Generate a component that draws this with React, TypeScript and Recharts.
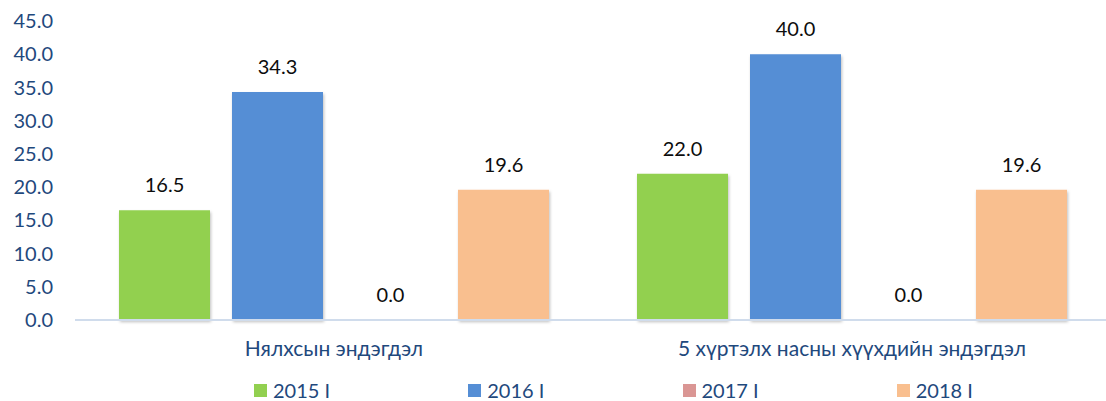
import { BarChart, Bar, XAxis, YAxis, Legend, LabelList } from 'recharts';

const categories = ['Нялхсын эндэгдэл', '5 хүртэлх насны хүүхдийн эндэгдэл'];
const y2015 = [16.5, 22.0];
const y2016 = [34.3, 40.0];
const y2017 = [0.0, 0.0];
const y2018 = [19.6, 19.6];
const seriesNames = ['2015 I', '2016 I', '2017 I', '2018 I'];
const seriesKeys = ['y2015', 'y2016', 'y2017', 'y2018'];
const seriesColors = ['#92D050', '#558ED5', '#DA9694', '#F9BF8F'];
const yTicks = [0, 5, 10, 15, 20, 25, 30, 35, 40, 45];

const data = categories.map((name, i) => ({
  name,
  y2015: y2015[i],
  y2016: y2016[i],
  y2017: y2017[i],
  y2018: y2018[i],
}));

const FONT = 'Lato, "Noto Sans", sans-serif';
const TEXT_BLUE = '#1F497D';

const renderLegend = () => (
  <div style={{ display: 'flex', height: 22, paddingLeft: 254, fontFamily: FONT }}>
    {seriesNames.map((s, i) => (
      <div key={s} style={{ width: 217, display: 'flex', alignItems: 'center', height: 22 }}>
        <span style={{ width: 13, height: 13, background: seriesColors[i], display: 'inline-block', marginRight: 6 }} />
        <span style={{ color: TEXT_BLUE, fontSize: 20 }}>{s}</span>
      </div>
    ))}
  </div>
);

export default function App() {
  return (
    <div style={{ position: 'absolute', left: 0, top: 0, background: '#fff', width: 1106, height: 401, overflow: 'hidden' }}>
      <BarChart
        width={1106}
        height={401}
        data={data}
        margin={{ top: 21, right: -5, left: 0, bottom: 0 }}
        barCategoryGap={44}
        barGap={22}
        style={{ overflow: 'hidden' }}
      >
        <defs>
          <filter id="barShadow" x="-10%" y="-10%" width="130%" height="120%">
            <feDropShadow dx="1" dy="2" stdDeviation="1.5" floodColor="#000" floodOpacity="0.25" />
          </filter>
        </defs>
        <XAxis
          dataKey="name"
          height={59}
          tickLine={false}
          tickMargin={15}
          axisLine={{ stroke: '#D0DCEC', strokeWidth: 2 }}
          tick={{ fill: TEXT_BLUE, fontSize: 21, fontFamily: FONT }}
        />
        <YAxis
          width={75}
          domain={[0, 45]}
          ticks={yTicks}
          interval={0}
          axisLine={false}
          tickLine={false}
          tickMargin={16}
          tickFormatter={(v: number) => v.toFixed(1)}
          tick={{ fill: TEXT_BLUE, fontSize: 20, fontFamily: FONT }}
        />
        <Legend verticalAlign="bottom" content={renderLegend} />
        {seriesKeys.map((k, i) => (
          <Bar
            key={k}
            dataKey={k}
            name={seriesNames[i]}
            fill={seriesColors[i]}
            minPointSize={0.01}
            isAnimationActive={false}
            style={{ filter: 'url(#barShadow)' }}
          >
            <LabelList
              dataKey={k}
              position="top"
              offset={18}
              formatter={(v: number) => v.toFixed(1)}
              style={{ fill: '#0D0D0D', fontSize: 20, fontFamily: FONT }}
            />
          </Bar>
        ))}
      </BarChart>
    </div>
  );
}
